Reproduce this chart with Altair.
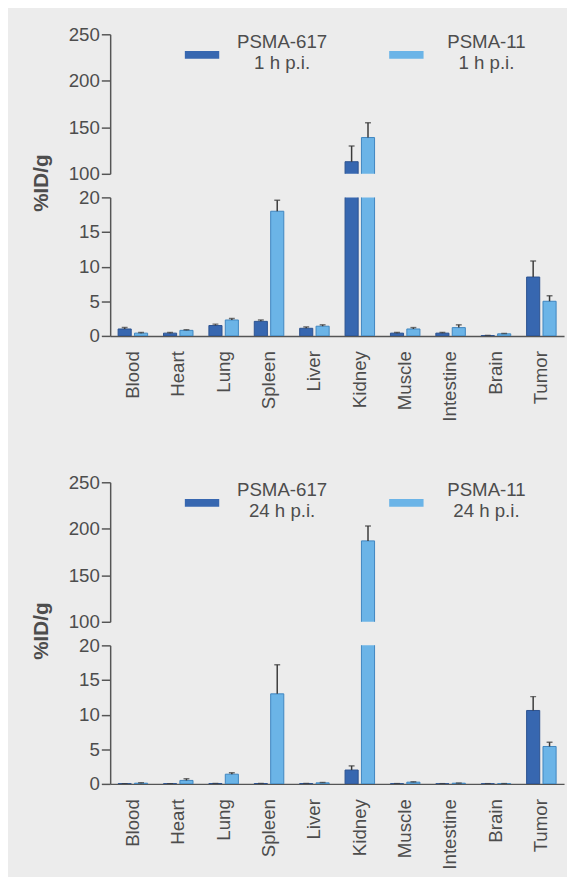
import altair as alt
import pandas as pd

organs = ["Blood", "Heart", "Lung", "Spleen", "Liver", "Kidney", "Muscle", "Intestine", "Brain", "Tumor"]
series = ["PSMA-617", "PSMA-11"]

# 1 h p.i.
p617_1h = [1.0, 0.4, 1.5, 2.1, 1.1, 113, 0.4, 0.4, 0.05, 8.5]
p617_1h_err = [0.2, 0.1, 0.2, 0.2, 0.2, 17, 0.1, 0.1, 0.02, 2.3]
p11_1h = [0.4, 0.8, 2.3, 18.0, 1.4, 139, 1.0, 1.2, 0.3, 5.0]
p11_1h_err = [0.1, 0.1, 0.2, 1.6, 0.2, 16, 0.2, 0.4, 0.05, 0.8]

# 24 h p.i.
p617_24h = [0.03, 0.03, 0.05, 0.05, 0.05, 2.0, 0.03, 0.02, 0.02, 10.6]
p617_24h_err = [0.01, 0.01, 0.01, 0.01, 0.01, 0.6, 0.01, 0.01, 0.01, 2.0]
p11_24h = [0.1, 0.5, 1.4, 13.0, 0.15, 187, 0.25, 0.1, 0.03, 5.4]
p11_24h_err = [0.05, 0.25, 0.2, 4.2, 0.05, 16, 0.05, 0.02, 0.01, 0.6]

colors = ["#3767b0", "#6bb4e7"]
strokes = ["#2b5290", "#3f86c0"]

FONT = "Liberation Sans"
TXT = "#4d4d4d"
W = 462


def make_df(v617, e617, v11, e11):
    rows = []
    for i, o in enumerate(organs):
        rows.append(dict(organ=o, series="PSMA-617", value=v617[i], top=v617[i] + e617[i]))
        rows.append(dict(organ=o, series="PSMA-11", value=v11[i], top=v11[i] + e11[i]))
    return pd.DataFrame(rows)


def segment(df, domain, ticks, height, upper, time_label):
    xaxis = None if upper else alt.Axis(
        labelAngle=-90, ticks=False, labelPadding=15, labelFontSize=19,
        labelFont=FONT, labelColor=TXT, domainColor="#555555", domainWidth=1.5,
        title=None,
    )
    x = alt.X("organ:N", sort=organs, axis=xaxis, title=None,
              scale=alt.Scale(paddingInner=0.35, paddingOuter=0.175))
    xo = alt.XOffset("series:N", sort=series, scale=alt.Scale(paddingInner=0.2))
    yscale = alt.Scale(domain=domain, zero=False, nice=False)
    yaxis = alt.Axis(
        values=ticks, labelFontSize=19, labelFont=FONT, labelColor=TXT,
        tickSize=9, tickColor="#555555", tickWidth=1.5, domainColor="#555555",
        domainWidth=1.5, grid=False, labelPadding=2,
        title=None if upper else "%ID/g",
        titleFont=FONT, titleFontSize=21, titleFontWeight="bold", titleColor=TXT,
        titleX=-70, titleY=-15, titleAlign="center", titleBaseline="middle",
        titleAngle=270,
    )
    if upper:
        legend = alt.Legend(
            orient="none", legendX=76, legendY=-9.5, direction="horizontal", columns=2,
            title=None, symbolType="M-1,0.5H1V0.95H-1Z", symbolSize=1225,
            symbolStrokeWidth=0, labelFont=FONT, labelFontSize=19, labelColor=TXT,
            labelExpr="[datum.label, '%s']" % time_label,
            labelAlign="center", labelOffset=64, columnPadding=63, gridAlign="all",
        )
    else:
        legend = None
    color = alt.Color("series:N", sort=series, scale=alt.Scale(domain=series, range=colors),
                      legend=legend)
    stroke = alt.Stroke("series:N", sort=series, scale=alt.Scale(domain=series, range=strokes),
                        legend=None)
    bars = alt.Chart(df).mark_bar(clip=True, strokeWidth=1).encode(
        x=x, xOffset=xo, y=alt.Y("value:Q", scale=yscale, axis=yaxis), color=color, stroke=stroke
    )
    rules = alt.Chart(df).mark_rule(clip=True, color="#3a3a3a", strokeWidth=1.5).encode(
        x=x, xOffset=xo, y=alt.Y("value:Q", scale=yscale, axis=yaxis), y2="top:Q"
    )
    caps = alt.Chart(df).mark_tick(clip=True, color="#3a3a3a", thickness=1.5, size=6).encode(
        x=x, xOffset=xo, y=alt.Y("top:Q", scale=yscale, axis=yaxis)
    )
    return alt.layer(bars, rules, caps).properties(width=W, height=height)


def panel(df, time_label):
    up = segment(df, [100, 250], [100, 150, 200, 250], 142, True, time_label)
    lo = segment(df, [0, 20], [0, 5, 10, 15, 20], 141, False, time_label)
    return alt.vconcat(up, lo, spacing=24, bounds="flush").resolve_scale(
        color="independent", stroke="independent")


df1 = make_df(p617_1h, p617_1h_err, p11_1h, p11_1h_err)
df2 = make_df(p617_24h, p617_24h_err, p11_24h, p11_24h_err)

chart = alt.vconcat(panel(df1, "1 h p.i."), panel(df2, "24 h p.i."), spacing=52
                    ).resolve_scale(color="independent", stroke="independent").properties(
    padding={"left": 23, "top": 9, "right": 3, "bottom": 0},
    background="#ececec",
).configure_view(stroke=None)

chart.save("out.html", embed_options={"renderer": "svg", "actions": False})
